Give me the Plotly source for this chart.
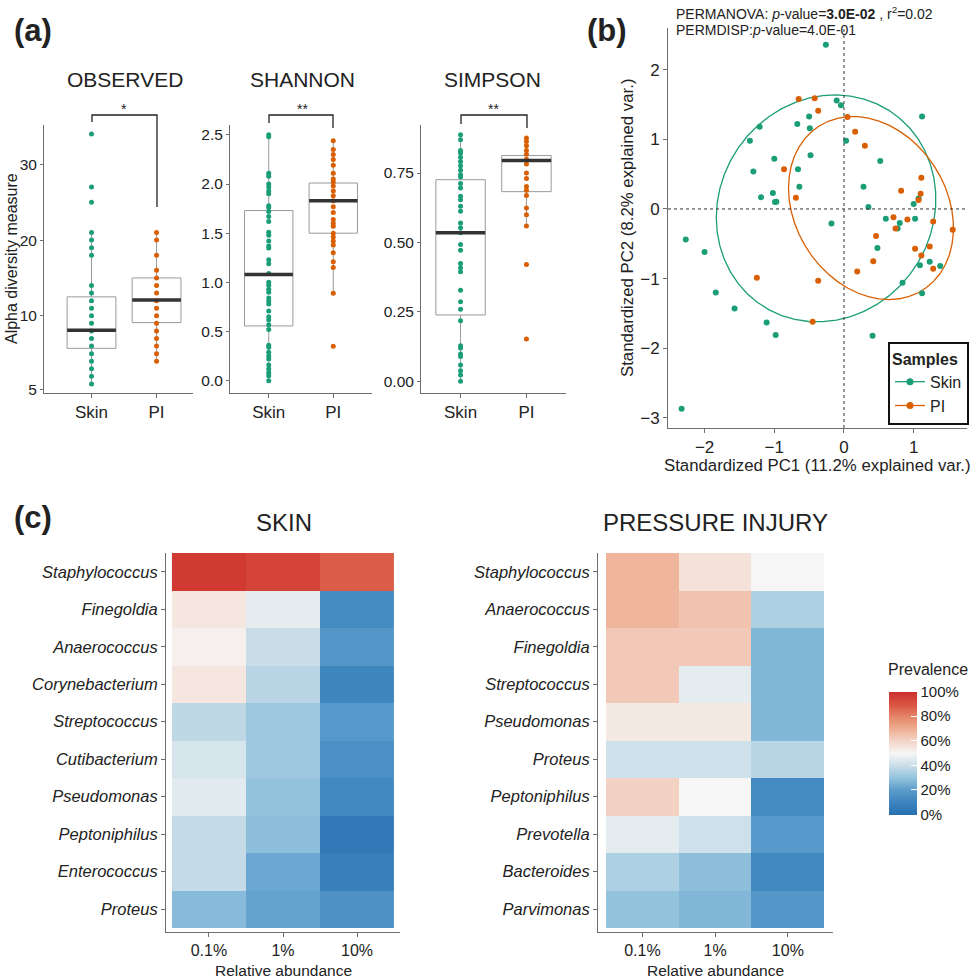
import numpy as np
import plotly.graph_objects as go

W, H = 977, 980
FONT = "Liberation Sans, Arial, sans-serif"
TXT = "#222222"
AX = "#6e6e6e"
TEAL = "#1b9e77"
ORANGE = "#d95f02"

# ---------------- (a) alpha diversity ----------------
groups = ["Skin", "PI"]

obs_skin = [34, 27, 25, 21, 20, 19, 18, 14, 13, 12, 11, 10, 9, 8, 7, 6, 5, 4, 3, 2, 1]
obs_pi = [21, 20, 18, 16, 15, 14, 13, 12, 11, 10, 9, 8, 7, 6, 5, 4]
obs_q1 = [5.7, 9.1]
obs_med = [8.1, 12.1]
obs_q3 = [12.5, 15.0]
obs_lo = [1, 4]
obs_hi = [21, 21]
obs_tickvals = [0.2, 10, 20, 30]
obs_ticktext = ["5", "10", "20", "30"]

sha_skin = [2.50, 2.48, 2.11, 2.08, 2.00, 1.97, 1.93, 1.90, 1.78, 1.76, 1.72, 1.67, 1.62,
            1.51, 1.48, 1.42, 1.37, 1.35, 1.23, 1.19, 1.09, 1.00, 0.97, 0.93, 0.90, 0.84,
            0.81, 0.78, 0.71, 0.65, 0.62, 0.57, 0.52, 0.36, 0.34, 0.29, 0.25, 0.22, 0.16,
            0.12, 0.08, 0.05, 0.00]
sha_pi = [2.44, 2.35, 2.30, 2.25, 2.19, 2.11, 2.05, 2.02, 1.98, 1.93, 1.88, 1.83, 1.77,
          1.71, 1.64, 1.60, 1.57, 1.50, 1.46, 1.42, 1.38, 1.30, 1.21, 1.15, 0.89, 0.35]
sha_q1 = [0.557, 1.50]
sha_med = [1.08, 1.83]
sha_q3 = [1.73, 2.01]
sha_lo = [0.0, 0.89]
sha_hi = [2.50, 2.44]

sim_skin = [0.888, 0.870, 0.831, 0.822, 0.807, 0.792, 0.776, 0.760, 0.744, 0.736, 0.712,
            0.696, 0.666, 0.654, 0.630, 0.612, 0.570, 0.553, 0.535, 0.493, 0.472, 0.424,
            0.409, 0.395, 0.328, 0.287, 0.260, 0.218, 0.128, 0.120, 0.098, 0.089, 0.059,
            0.038, 0.023, 0.000]
sim_pi = [0.876, 0.864, 0.848, 0.831, 0.818, 0.800, 0.783, 0.750, 0.730, 0.702, 0.688,
          0.669, 0.624, 0.600, 0.559, 0.421, 0.152]
sim_q1 = [0.239, 0.683]
sim_med = [0.535, 0.795]
sim_q3 = [0.726, 0.813]
sim_lo = [0.0, 0.559]
sim_hi = [0.888, 0.876]

# ---------------- (b) PCA ----------------
skin_pc1 = [-0.26, -0.105, -0.043, 1.12, -1.21, -0.50, -0.67, -0.49, -1.35, 0.03, -0.48,
            -1.0, 0.52, -1.30, -0.66, -0.64, 0.28, -1.19, -1.02, -0.99, -0.97, 0.35, 1.0,
            1.07, -0.18, 0.60, 1.02, 0.80, 0.77, -2.27, -2.0, 0.48, -1.84, -1.57, -1.11,
            -0.98, 0.41, 0.84, 1.09, 1.12, 1.23, 1.38, -2.33]
skin_pc2 = [2.36, 1.56, 1.49, 1.33, 1.18, 1.33, 1.22, 1.16, 0.98, 0.98, 0.77, 0.72, 0.69,
            0.54, 0.57, 0.32, 0.32, 0.17, 0.23, 0.10, 0.105, 0.03, 0.07, 0.15, -0.21,
            -0.14, -0.14, -0.20, -0.28, -0.44, -0.62, -0.56, -1.20, -1.43, -1.63, -1.81,
            -1.82, -1.06, -0.81, -1.21, -0.76, -0.82, -2.87]
pi_pc1 = [-0.65, -0.42, -0.37, 0.05, 0.16, 0.30, -0.86, 1.11, 0.82, 1.10, -0.69, 1.07,
          0.71, 0.74, 0.91, 1.28, 1.56, 0.46, 1.02, 1.23, 0.42, 0.19, 1.11, 1.28, -1.25,
          -0.37, -0.45]
pi_pc2 = [1.58, 1.59, 1.41, 1.32, 1.11, 0.91, 0.57, 0.45, 0.26, 0.22, 0.16, 0.13, -0.12,
          -0.28, -0.15, -0.18, -0.30, -0.39, -0.57, -0.54, -0.75, -0.90, -0.67, -0.86,
          -0.99, -1.03, -1.62]
ellipse_prob = 0.68

# ---------------- (c) heatmaps ----------------
thresholds = ["0.1%", "1%", "10%"]
skin_genera = ["Staphylococcus", "Finegoldia", "Anaerococcus", "Corynebacterium",
               "Streptococcus", "Cutibacterium", "Pseudomonas", "Peptoniphilus",
               "Enterococcus", "Proteus"]
skin_p01 = [97, 55, 52, 55, 38, 43, 45, 39, 39, 28]
skin_p1 = [94, 46, 40, 37, 32, 32, 30, 29, 23, 22]
skin_p10 = [88, 13, 18, 11, 19, 15, 12, 5, 8, 16]

pi_genera = ["Staphylococcus", "Anaerococcus", "Finegoldia", "Streptococcus",
             "Pseudomonas", "Proteus", "Peptoniphilus", "Prevotella", "Bacteroides",
             "Parvimonas"]
pi_p01 = [68, 68, 63, 63, 54, 41, 61, 46, 35, 30]
pi_p1 = [56, 65, 63, 46, 54, 41, 50, 41, 29, 27]
pi_p10 = [50, 35, 27, 27, 27, 37, 13, 19, 12, 18]

prev_ticks = [0, 20, 40, 60, 80, 100]
colorscale = [
    [0.00, "#2870b1"], [0.10, "#3b84bd"], [0.20, "#5a9bcb"], [0.30, "#93c3dd"],
    [0.40, "#c9dde8"], [0.50, "#f6f6f6"], [0.60, "#f3d5c8"], [0.70, "#eeae92"],
    [0.80, "#e48467"], [0.90, "#d9533f"], [1.00, "#cd2e2e"],
]


def px_x(p):
    return p / W


def px_y(p):
    return 1 - p / H


fig = go.Figure()
layout_axes = {}


def axis_common(**kw):
    d = dict(showline=True, linecolor=AX, linewidth=1, ticks="outside", ticklen=4,
             tickcolor=AX, showgrid=False, zeroline=False, automargin=False,
             tickfont=dict(family=FONT, size=16, color=TXT))
    d.update(kw)
    return d


# alpha panels
alpha_panels = [
    (1, (44, 193), [0.27, 2.56], [-0.2, 35.2], obs_skin, obs_pi, obs_q1, obs_med, obs_q3, obs_lo, obs_hi,
     dict(tickvals=obs_tickvals, ticktext=obs_ticktext)),
    (2, (230, 372), [0.4, 2.6], [-0.125, 2.6], sha_skin, sha_pi, sha_q1, sha_med, sha_q3, sha_lo, sha_hi,
     dict(tickvals=[0, 0.5, 1.0, 1.5, 2.0, 2.5], tickformat=".1f")),
    (3, (421, 566), [0.4, 2.6], [-0.042, 0.923], sim_skin, sim_pi, sim_q1, sim_med, sim_q3, sim_lo, sim_hi,
     dict(tickvals=[0, 0.25, 0.5, 0.75], tickformat=".2f")),
]
for idx, xdom, xr, yr, sk, pi, q1, med, q3, lo, hi, ytk in alpha_panels:
    xa, ya = f"x{idx}", f"y{idx}"
    for gi, (vals, col) in enumerate([(sk, TEAL), (pi, ORANGE)]):
        pos = gi + 1
        fig.add_trace(go.Box(x=[pos], q1=[q1[gi]], median=[med[gi]], q3=[q3[gi]],
                             lowerfence=[lo[gi]], upperfence=[hi[gi]], width=0.75,
                             fillcolor="white", line=dict(color="#9a9a9a", width=1),
                             whiskerwidth=0, boxpoints=False, xaxis=xa, yaxis=ya,
                             showlegend=False, hoverinfo="skip"))
        fig.add_trace(go.Scatter(x=[pos] * len(vals), y=vals, mode="markers",
                                 marker=dict(color=col, size=5), xaxis=xa, yaxis=ya,
                                 showlegend=False, hoverinfo="skip"))
        fig.add_trace(go.Scatter(x=[pos - 0.375, pos + 0.375], y=[med[gi], med[gi]],
                                 mode="lines", line=dict(color="#333333", width=3.5),
                                 xaxis=xa, yaxis=ya, showlegend=False, hoverinfo="skip"))
    key = "" if idx == 1 else str(idx)
    layout_axes[f"xaxis{key}"] = axis_common(domain=[px_x(xdom[0]), px_x(xdom[1])], range=xr,
                                             tickvals=[1, 2], ticktext=groups, anchor=ya,
                                             tickfont=dict(family=FONT, size=17, color=TXT))
    yax = axis_common(domain=[px_y(393), px_y(125)], range=yr, anchor=xa, ticklen=3,
                      tickfont=dict(family=FONT, size=15.5, color=TXT))
    yax.update(ytk)
    layout_axes[f"yaxis{key}"] = yax

# PCA panel
skin_x, skin_y = np.array(skin_pc1), np.array(skin_pc2)
pi_x, pi_y = np.array(pi_pc1), np.array(pi_pc2)


def ellipse(xv, yv, prob):
    theta = np.concatenate([np.linspace(-np.pi, np.pi, 50), np.linspace(np.pi, -np.pi, 50)])
    circle = np.column_stack([np.cos(theta), np.sin(theta)])
    sigma = np.cov(np.vstack([xv, yv]))
    ed = np.sqrt(-2 * np.log(1 - prob))
    upper = np.linalg.cholesky(sigma).T
    pts = circle @ upper * ed + np.array([xv.mean(), yv.mean()])
    return pts[:, 0], pts[:, 1]


for xv, yv, col in [(skin_x, skin_y, TEAL), (pi_x, pi_y, ORANGE)]:
    ex, ey = ellipse(xv, yv, ellipse_prob)
    fig.add_trace(go.Scatter(x=ex, y=ey, mode="lines", line=dict(color=col, width=1.3),
                             xaxis="x4", yaxis="y4", showlegend=False, hoverinfo="skip"))
for xv, yv, col in [(skin_x, skin_y, TEAL), (pi_x, pi_y, ORANGE)]:
    fig.add_trace(go.Scatter(x=xv, y=yv, mode="markers", marker=dict(color=col, size=6),
                             xaxis="x4", yaxis="y4", showlegend=False, hoverinfo="skip"))
for name, col in zip(groups, [TEAL, ORANGE]):
    fig.add_trace(go.Scatter(x=[None], y=[None], mode="lines+markers", name=name,
                             line=dict(color=col, width=1.3), marker=dict(color=col, size=7),
                             xaxis="x4", yaxis="y4", showlegend=True))

layout_axes["xaxis4"] = axis_common(domain=[px_x(668), px_x(967)], range=[-2.525, 1.765],
                                    tickvals=[-2, -1, 0, 1], anchor="y4",
                                    tickfont=dict(family=FONT, size=17, color=TXT))
layout_axes["yaxis4"] = axis_common(domain=[px_y(428), px_y(28)], range=[-3.147, 2.6],
                                    tickvals=[-3, -2, -1, 0, 1, 2], anchor="x4",
                                    tickfont=dict(family=FONT, size=17, color=TXT))

# heatmaps
skin_z = [list(r) for r in zip(skin_p01, skin_p1, skin_p10)]
pi_z = [list(r) for r in zip(pi_p01, pi_p1, pi_p10)]
fig.add_trace(go.Heatmap(z=skin_z, x=thresholds, y=skin_genera, coloraxis="coloraxis",
                         xaxis="x5", yaxis="y5", hoverinfo="skip"))
fig.add_trace(go.Heatmap(z=pi_z, x=thresholds, y=pi_genera, coloraxis="coloraxis",
                         xaxis="x6", yaxis="y6", hoverinfo="skip"))

for idx, xdom, xr in [(5, (166, 400), [-0.58, 2.58]), (6, (598, 833), [-0.61, 2.62])]:
    layout_axes[f"xaxis{idx}"] = axis_common(domain=[px_x(xdom[0]), px_x(xdom[1])], range=xr,
                                             anchor=f"y{idx}", type="category",
                                             tickfont=dict(family=FONT, size=16, color=TXT))
    layout_axes[f"yaxis{idx}"] = axis_common(domain=[px_y(932), px_y(553)], range=[9.61, -0.5],
                                             anchor=f"x{idx}", type="category",
                                             tickfont=dict(family=FONT, size=16.5, color=TXT,
                                                           style="italic"))

# annotations
ann = []


def text(x, y, s, size, **kw):
    d = dict(x=px_x(x), y=px_y(y), xref="paper", yref="paper", text=s, showarrow=False,
             font=dict(family=FONT, size=size, color=kw.pop("color", TXT)),
             xanchor=kw.pop("xanchor", "center"), yanchor=kw.pop("yanchor", "middle"))
    d.update(kw)
    ann.append(d)


text(33, 30, "<b>(a)</b>", 31)
text(607, 30, "<b>(b)</b>", 31)
text(33, 517, "<b>(c)</b>", 31)
text(125, 80, "OBSERVED", 21)
text(302, 80, "SHANNON", 21)
text(493, 80, "SIMPSON", 21)
text(124, 109, "*", 14)
text(302, 109, "**", 14)
text(494, 109, "**", 14)
text(674, 13, "PERMANOVA: <i>p</i>-value=<b>3.0E-02</b> , r<sup>2</sup>=0.02", 14, xanchor="left")
text(674, 30, "PERMDISP:<i>p</i>-value=4.0E-01", 14, xanchor="left")
text(12, 259, "Alpha diversity measure", 16, textangle=-90)
text(627, 228, "Standardized PC2 (8.2% explained var.)", 16.8, textangle=-90)
text(817, 466, "Standardized PC1 (11.2% explained var.)", 16.8)
text(284, 522, "SKIN", 24)
text(715, 522, "PRESSURE INJURY", 24)
text(283, 970, "Relative abundance", 15.5)
text(715, 970, "Relative abundance", 15.5)
text(928, 669, "Prevalence", 16)

# significance brackets (decorations)
shapes = []
brackets = [((92, 157), 115, 122, 207), ((269, 333), 115, 123, 128), ((461, 527), 115, 124, 128)]
for (xl, xr_), ytop, yl, yr_ in brackets:
    shapes.append(dict(type="path", xref="paper", yref="paper",
                       path=f"M {px_x(xl)} {px_y(yl)} L {px_x(xl)} {px_y(ytop)} L {px_x(xr_)} {px_y(ytop)} L {px_x(xr_)} {px_y(yr_)}",
                       line=dict(color="#222222", width=1.3)))
# PCA reference lines at zero
shapes.append(dict(type="line", xref="x4", yref="y4 domain", x0=0, x1=0, y0=0, y1=1,
                   line=dict(color="#333333", width=1, dash="dot")))
shapes.append(dict(type="line", xref="x4 domain", yref="y4", x0=0, x1=1, y0=0, y1=0,
                   line=dict(color="#333333", width=1, dash="dot")))

fig.update_layout(
    width=W, height=H, margin=dict(l=0, r=0, t=0, b=0, autoexpand=False),
    paper_bgcolor="white", plot_bgcolor="white",
    font=dict(family=FONT, color=TXT),
    annotations=ann, shapes=shapes,
    coloraxis=dict(colorscale=colorscale, cmin=0, cmax=100,
                   colorbar=dict(x=px_x(889), xanchor="left", y=px_y(753), yanchor="middle",
                                 len=123, lenmode="pixels", thickness=28, thicknessmode="pixels",
                                 outlinewidth=0, ticks="inside", tickcolor="white", ticklen=6,
                                 tickmode="array", tickvals=prev_ticks,
                                 ticktext=[f"{v}%" for v in prev_ticks],
                                 tickfont=dict(family=FONT, size=15, color=TXT), ypad=0, xpad=0)),
    legend=dict(x=px_x(969), y=px_y(342), xanchor="right", yanchor="top",
                bordercolor="#111111", borderwidth=2, bgcolor="white",
                title=dict(text="<b>Samples</b>", font=dict(family=FONT, size=16, color=TXT)),
                font=dict(family=FONT, size=16, color=TXT), itemwidth=30, tracegroupgap=2),
    **layout_axes,
)

fig.write_html("out.html", config={"displayModeBar": False},
               post_script="document.body.style.margin='0';document.body.style.overflow='hidden';")
